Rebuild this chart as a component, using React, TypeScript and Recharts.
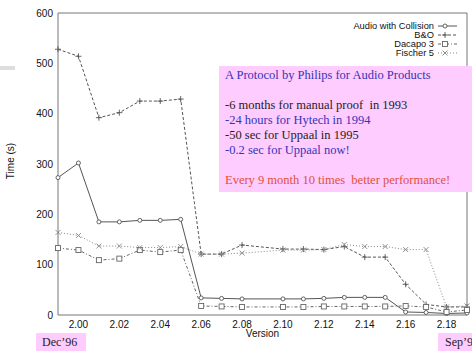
import React from 'react'
import { LineChart, Line, XAxis, YAxis } from 'recharts'

// version numbers on the x axis (2.09 has no measurement)
const versions = [1.99, 2.0, 2.01, 2.02, 2.03, 2.04, 2.05, 2.06, 2.07, 2.08, 2.1, 2.11, 2.12, 2.13, 2.14, 2.15, 2.16, 2.17, 2.18, 2.19]

// verification time in seconds per version
const audioWithCollision = [273, 302, 185, 185, 188, 188, 190, 34, 33, 32, 32, 32, 33, 35, 35, 35, 6, 5, 3, 4]
const bAndO = [528, 514, 392, 402, 425, 425, 429, 121, 121, 139, 131, 131, 130, 136, 115, 115, 61, 21, 16, 16]
const dacapo3 = [133, 129, 109, 112, 129, 125, 129, 18, 17, 16, 16, 16, 17, 17, 17, 17, 18, 16, 6, 10]
const fischer5 = [164, 158, 137, 137, 134, 134, 136, 121, 121, 123, 129, 129, 130, 140, 136, 136, 130, 130, 16, 18]

const xTicks = [2.0, 2.02, 2.04, 2.06, 2.08, 2.1, 2.12, 2.14, 2.16, 2.18]
const yTicks = [0, 100, 200, 300, 400, 500, 600]

const noteLines = [
  { text: 'A Protocol by Philips for Audio Products', color: '#3434b8' },
  { text: '\u00a0', color: '#000' },
  { text: '-6 months for manual proof  in 1993', color: '#222' },
  { text: '-24 hours for Hytech in 1994', color: '#3434b8' },
  { text: '-50 sec for Uppaal in 1995', color: '#222' },
  { text: '-0.2 sec for Uppaal now!', color: '#3434b8' },
  { text: '\u00a0', color: '#000' },
  { text: 'Every 9 month 10 times  better performance!', color: '#e0503c' },
]

const data = versions.map((v, i) => ({
  version: v,
  audio: audioWithCollision[i],
  bo: bAndO[i],
  dacapo: dacapo3[i],
  fischer: fischer5[i],
}))

const FRAME = '#777'
const SANS = '"Liberation Sans", Arial, sans-serif'
const SERIF = '"Liberation Serif", "Times New Roman", serif'

type Mark = 'circle' | 'plus' | 'square' | 'cross'

function Marker({ x, y, kind, color }: { x: number; y: number; kind: Mark; color: string }) {
  if (kind === 'circle') return <circle cx={x} cy={y} r={2} fill="#fff" stroke={color} strokeWidth={0.9} />
  if (kind === 'square')
    return <rect x={x - 2.5} y={y - 2.5} width={5} height={5} fill="#fff" stroke={color} strokeWidth={0.9} />
  if (kind === 'plus')
    return (
      <g stroke={color} strokeWidth={0.9}>
        <line x1={x - 3} y1={y} x2={x + 3} y2={y} />
        <line x1={x} y1={y - 3} x2={x} y2={y + 3} />
      </g>
    )
  return (
    <g stroke={color} strokeWidth={0.9}>
      <line x1={x - 2.5} y1={y - 2.5} x2={x + 2.5} y2={y + 2.5} />
      <line x1={x - 2.5} y1={y + 2.5} x2={x + 2.5} y2={y - 2.5} />
    </g>
  )
}

const series = [
  { key: 'audio', name: 'Audio with Collision', color: '#555', dash: undefined, mark: 'circle' as Mark },
  { key: 'bo', name: 'B&O', color: '#555', dash: '3 2', mark: 'plus' as Mark },
  { key: 'dacapo', name: 'Dacapo 3', color: '#666', dash: '3 2 1 2', mark: 'square' as Mark },
  { key: 'fischer', name: 'Fischer 5', color: '#888', dash: '1 2', mark: 'cross' as Mark },
]

function LegendBox() {
  return (
    <svg width={130} height={40} style={{ position: 'absolute', left: 330, top: 20 }}>
      {series.map((s, i) => {
        const y = 6 + i * 9
        return (
          <g key={s.key}>
            <text x={104} y={y + 3.2} textAnchor="end" fontSize={9.3} fontFamily={SANS} fill="#111">
              {s.name}
            </text>
            <line x1={108} y1={y} x2={127} y2={y} stroke={s.color} strokeDasharray={s.dash} />
            <Marker x={115} y={y} kind={s.mark} color={s.color} />
          </g>
        )
      })}
    </svg>
  )
}

export default function App() {
  const tickStyle = { fill: '#111', fontSize: 10, fontFamily: SANS }
  return (
    <div style={{ position: 'absolute', left: 0, top: 0, width: 472, height: 351, background: '#fff', overflow: 'hidden' }}>
      <div style={{ position: 'absolute', left: 0, top: 66, width: 15, height: 4, background: '#ddd' }} />
      <LineChart width={472} height={351} data={data} margin={{ top: 13, right: 5, bottom: 6, left: 18 }}>
        <XAxis
          xAxisId="main"
          dataKey="version"
          type="number"
          domain={[1.99, 2.19]}
          ticks={xTicks}
          tickFormatter={(v: number) => v.toFixed(2)}
          tick={tickStyle}
          tickLine={false}
          tickSize={4}
          tickMargin={2}
          axisLine={{ stroke: FRAME }}
          height={30}
          label={{ value: 'Version', position: 'insideBottom', offset: 8, fontSize: 10, fontFamily: SANS, fill: '#111' }}
        />
        <XAxis xAxisId="bottomTicks" type="number" domain={[1.99, 2.19]} ticks={xTicks} mirror tick={false} tickSize={4} tickLine={{ stroke: FRAME }} axisLine={false} />
        <XAxis xAxisId="top" orientation="top" type="number" domain={[1.99, 2.19]} ticks={xTicks} mirror tick={false} tickSize={4} tickLine={{ stroke: FRAME }} axisLine={{ stroke: FRAME }} />
        <YAxis
          yAxisId="main"
          domain={[0, 600]}
          ticks={yTicks}
          tick={tickStyle}
          tickLine={false}
          tickSize={3}
          tickMargin={2}
          width={40}
          axisLine={{ stroke: FRAME }}
          label={{
            content: ({ viewBox }: any) => {
              const cy = viewBox.y + viewBox.height / 2 - 3
              return (
                <text x={14} y={cy} transform={`rotate(-90, 14, ${cy})`} textAnchor="middle" fontSize={10} fontFamily={SANS} fill="#111">
                  Time (s)
                </text>
              )
            },
          }}
        />
        <YAxis yAxisId="leftTicks" domain={[0, 600]} ticks={yTicks} mirror tick={false} tickSize={4} tickLine={{ stroke: FRAME }} axisLine={false} />
        <YAxis yAxisId="right" orientation="right" domain={[0, 600]} ticks={yTicks} mirror tick={false} tickSize={4} tickLine={{ stroke: FRAME }} axisLine={{ stroke: FRAME }} />
        {series.map((s) => (
          <Line
            key={s.key}
            xAxisId="main"
            yAxisId="main"
            dataKey={s.key}
            name={s.name}
            type="linear"
            stroke={s.color}
            strokeWidth={1}
            strokeDasharray={s.dash}
            isAnimationActive={false}
            dot={(p: any) => <Marker key={`${s.key}-${p.index}`} x={p.cx} y={p.cy} kind={s.mark} color={s.color} />}
            activeDot={false}
          />
        ))}
      </LineChart>
      <LegendBox />
      <div
        style={{
          position: 'absolute',
          left: 219,
          top: 66,
          width: 253,
          height: 126,
          background: '#ffccff',
          boxSizing: 'border-box',
          padding: '2px 0 0 6px',
          fontFamily: SERIF,
          fontSize: 12.5,
          lineHeight: '15px',
          whiteSpace: 'pre',
        }}
      >
        {noteLines.map((l, i) => (
          <div key={i} style={{ color: l.color }}>
            {l.text}
          </div>
        ))}
      </div>
      <div style={{ position: 'absolute', left: 36, top: 333, width: 50, height: 18, background: '#ffccff', fontFamily: SERIF, fontSize: 12, lineHeight: '18px', paddingLeft: 6, boxSizing: 'border-box', color: '#222' }}>
        Dec’96
      </div>
      <div style={{ position: 'absolute', left: 438, top: 333, width: 40, height: 18, background: '#ffccff', fontFamily: SERIF, fontSize: 12, lineHeight: '18px', paddingLeft: 7, boxSizing: 'border-box', color: '#222', whiteSpace: 'nowrap' }}>
        Sep’98
      </div>
    </div>
  )
}
